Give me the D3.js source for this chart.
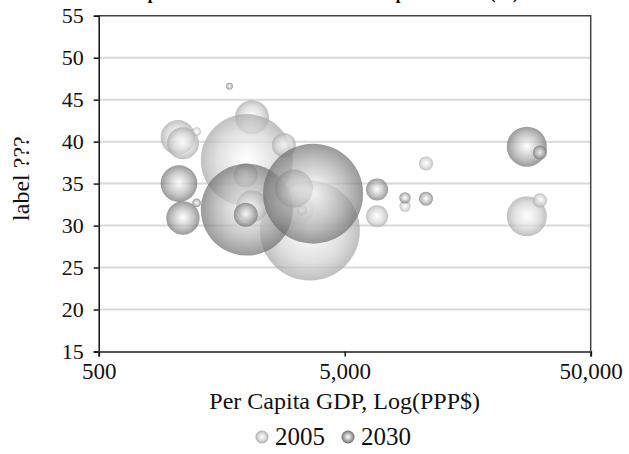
<!DOCTYPE html>
<html>
<head>
<meta charset="utf-8">
<script src="https://cdn.jsdelivr.net/npm/d3@7"></script>
<style>
  body { margin: 0; background: #fff; }
  svg { display: block; }
  svg text { font-family: "Liberation Serif", "Times New Roman", serif !important; }
</style>
</head>
<body>
<svg id="chart" width="629" height="454"></svg>
<script>
const title = "Expenditure Share in Human Development Ratio (%)";
const xLabel = "Per Capita GDP, Log(PPP$)";
const yLabel = "label ???";
const series = ["2005", "2030"];
const xTicks = [500, 5000, 50000];
const yTicks = [15, 20, 25, 30, 35, 40, 45, 50, 55];

// 2005 bubbles (light)
const gdp2005 = [1050, 1100, 1250, 1700, 2100, 2000, 1980, 2830, 3200, 3610, 3350, 6770, 8790, 10700, 27500, 31100];
const val2005 = [40.5, 39.8, 41.2, 36.6, 42.9, 37.8, 36.0, 39.6, 32.1, 29.4, 31.8, 31.1, 32.3, 37.4, 31.1, 33.0];
const size2005 = [156, 133, 10, 5, 150, 1100, 75, 75, 150, 1300, 13, 63, 16, 26, 208, 26];

// 2030 bubbles (dark)
const gdp2030 = [1060, 1100, 1250, 1700, 2100, 2000, 1980, 3110, 3720, 6770, 8790, 10700, 27500, 31100];
const val2030 = [35.0, 30.9, 32.7, 46.6, 32.3, 31.9, 31.3, 34.4, 33.8, 34.3, 33.3, 33.2, 39.4, 38.7];
const size2030 = [174, 145, 10, 6, 133, 1100, 75, 188, 1300, 63, 17, 26, 208, 26];

const width = 629, height = 454;
const margin = {top: 15.7, right: 38.3, bottom: 102.5, left: 98.7};

const svg = d3.select("#chart");

const x = d3.scaleLog().domain([500, 50000]).range([margin.left, width - margin.right]);
const y = d3.scaleLinear().domain([15, 55]).range([height - margin.bottom, margin.top]);
const r = d3.scaleSqrt().domain([0, d3.max(size2005.concat(size2030))]).range([0, 50]);

const pack = (gdp, val, size, s) => gdp.map((d, i) => ({gdp: d, val: val[i], size: size[i], s}));
const bubbles = pack(gdp2005, val2005, size2005, 0).concat(pack(gdp2030, val2030, size2030, 1));

// sphere-like shading
const defs = svg.append("defs");
const shades = [
  ["#ffffff", "#f3f3f3", "#d4d4d4", "#a8a8a8"],
  ["#ffffff", "#e6e6e6", "#a8a8a8", "#6a6a6a"]
];
shades.forEach((c, i) => {
  const g = defs.append("radialGradient").attr("id", "ball" + i)
    .attr("cx", "50%").attr("cy", "50%").attr("r", "50%")
    .attr("fx", "50%").attr("fy", "48%");
  [0, 0.2, 0.65, 1].forEach((o, k) =>
    g.append("stop").attr("offset", o).attr("stop-color", c[k]));
});

// gridlines
svg.append("g")
  .selectAll("line")
  .data(yTicks.filter(d => d > 15 && d < 55))
  .join("line")
  .attr("x1", x.range()[0]).attr("x2", x.range()[1])
  .attr("y1", d => y(d)).attr("y2", d => y(d))
  .attr("stroke", "#d9d9d9").attr("stroke-width", 2);

// frame top + right
svg.append("path")
  .attr("d", `M${x.range()[0]},${y(55)}H${x.range()[1]}V${y(15)}`)
  .attr("fill", "none").attr("stroke", "#444").attr("stroke-width", 1.5);

// bubbles
svg.append("g")
  .selectAll("circle")
  .data(bubbles)
  .join("circle")
  .attr("cx", d => x(d.gdp))
  .attr("cy", d => y(d.val))
  .attr("r", d => r(d.size))
  .attr("fill", d => `url(#ball${d.s})`)
  .attr("fill-opacity", d => d.s ? 0.68 : 0.72);

// axes
const yAxis = svg.append("g")
  .attr("transform", `translate(${margin.left},0)`)
  .call(d3.axisLeft(y).tickValues(yTicks).tickSize(5).tickPadding(10));
yAxis.select(".domain").attr("stroke", "#111").attr("stroke-width", 1.5);
yAxis.selectAll(".tick line").attr("stroke", "#111").attr("stroke-width", 1.5);
yAxis.selectAll("text").attr("font-size", 22).attr("fill", "#111");

const xAxis = svg.append("g")
  .attr("transform", `translate(0,${height - margin.bottom})`)
  .call(d3.axisBottom(x).tickValues(xTicks).tickSize(5).tickPadding(6).tickFormat(d3.format(",")));
xAxis.select(".domain").attr("stroke", "#555").attr("stroke-width", 2);
xAxis.selectAll(".tick line").attr("stroke", "#111").attr("stroke-width", 1.5);
xAxis.selectAll("text").attr("font-size", 23).attr("fill", "#111");

// titles
svg.append("text")
  .attr("x", 128).attr("y", -1.5)
  .attr("font-size", 17).attr("font-weight", "bold")
  .text(title);

svg.append("text")
  .attr("x", (x.range()[0] + x.range()[1]) / 2).attr("y", 409)
  .attr("text-anchor", "middle").attr("font-size", 24).attr("fill", "#111")
  .text(xLabel);

svg.append("text")
  .attr("transform", `translate(29,${(y.range()[0] + y.range()[1]) / 2 - 5}) rotate(-90)`)
  .attr("text-anchor", "middle").attr("font-size", 24).attr("fill", "#111")
  .text(yLabel);

// legend
const legend = svg.append("g")
  .selectAll("g")
  .data(series)
  .join("g")
  .attr("transform", (d, i) => `translate(${262 + i * 86},437)`);
legend.append("circle")
  .attr("r", 6.5)
  .attr("fill", (d, i) => `url(#ball${i})`);
legend.append("text")
  .attr("x", 13).attr("y", 8)
  .attr("font-size", 25).attr("fill", "#111")
  .text(d => d);
</script>
</body>
</html>
